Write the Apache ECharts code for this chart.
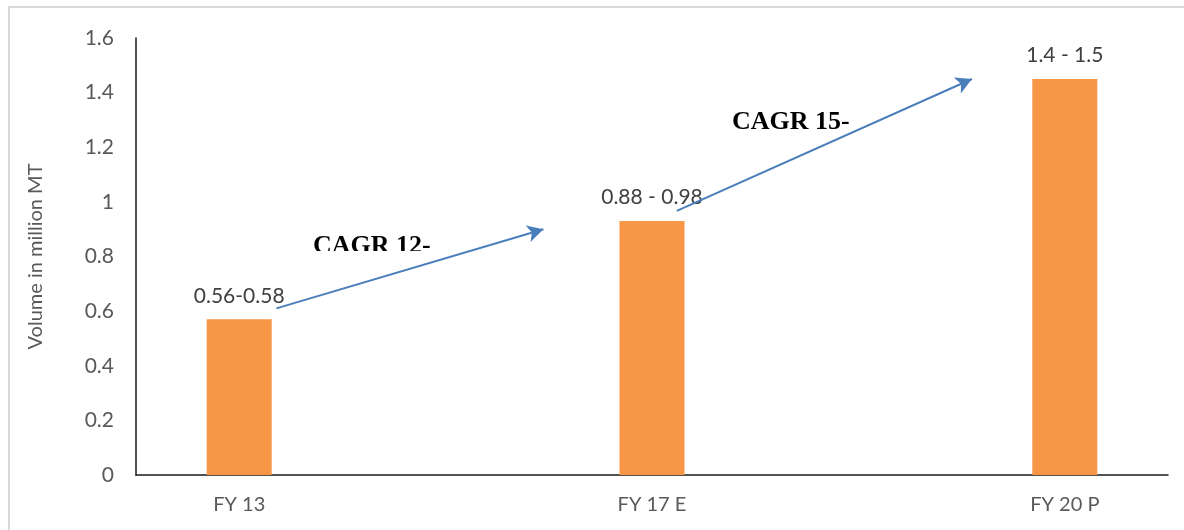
<!DOCTYPE html>
<html>
<head>
<meta charset="utf-8">
<script src="https://cdn.jsdelivr.net/npm/echarts@6/dist/echarts.min.js"></script>
<style>
  html, body { margin: 0; padding: 0; background: #fff; }
  #chart { width: 1184px; height: 530px; }
</style>
</head>
<body>
<div id="chart"></div>
<script>
// chart data
const categories = ['FY 13', 'FY 17 E', 'FY 20 P']
const volumes = [0.57, 0.93, 1.45]
const rangeLabels = ['0.56-0.58', '0.88 - 0.98', '1.4 - 1.5']
const yMin = 0
const yMax = 1.6
const yStep = 0.2

// growth arrows, in data coordinates: [category position, volume]
const cagrArrows = [
  [[0.09, 0.61], [0.737, 0.9]],
  [[1.06, 0.967], [1.775, 1.45]],
]
const cagrTexts = ['CAGR 12-', 'CAGR 15-']

const labelFont = 'Lato, "Open Sans", sans-serif'
const chart = echarts.init(document.getElementById('chart'))

chart.setOption({
  animation: false,
  backgroundColor: '#fff',
  grid: { left: 136, right: 16, top: 38, bottom: 55, outerBoundsMode: 'none' },
  xAxis: {
    type: 'value',
    min: -0.25,
    max: categories.length - 0.75,
    axisLine: { show: true, onZero: false, lineStyle: { color: '#1a1a1a', width: 1.5 } },
    axisTick: { show: false },
    splitLine: { show: false },
    axisLabel: {
      customValues: categories.map((_, i) => i),
      formatter: (value) => categories[Math.round(value)] ?? '',
      color: '#595959',
      fontFamily: labelFont,
      fontSize: 20,
      margin: 20,
    },
  },
  yAxis: {
    type: 'value',
    min: yMin,
    max: yMax,
    interval: yStep,
    name: 'Volume in million MT',
    nameLocation: 'middle',
    nameGap: 90,
    nameTextStyle: { color: '#595959', fontFamily: labelFont, fontSize: 20 },
    axisLine: { show: true, onZero: false, lineStyle: { color: '#1a1a1a', width: 1.5 } },
    axisTick: { show: false },
    splitLine: { show: false },
    axisLabel: {
      color: '#595959',
      fontFamily: labelFont,
      fontSize: 21,
      margin: 22,
      formatter: (value) => String(+value.toFixed(1)),
    },
  },
  series: [
    {
      type: 'bar',
      barWidth: 65,
      data: volumes.map((v, i) => [i, v]),
      itemStyle: { color: '#f79646' },
      label: {
        show: true,
        position: 'top',
        distance: 13,
        color: '#404040',
        fontFamily: labelFont,
        fontSize: 21,
        formatter: (p) => rangeLabels[p.dataIndex],
      },
      markLine: {
        silent: true,
        symbol: ['none', 'arrow'],
        symbolSize: [13, 16],
        label: { show: false },
        lineStyle: { color: '#4a7ebb', width: 2, type: 'solid' },
        data: cagrArrows.map(([from, to]) => [{ coord: from }, { coord: to }]),
        z: 5,
      },
    },
  ],
  graphic: [
    {
      type: 'rect',
      silent: true,
      shape: { x: 9, y: 7, width: 1400, height: 700 },
      style: { fill: 'none', stroke: '#d9d9d9', lineWidth: 2 },
      z: 0,
    },
    {
      type: 'text',
      silent: true,
      x: 313,
      y: 233,
      style: {
        text: cagrTexts[0],
        fill: '#000',
        font: 'bold 26px "Liberation Serif", serif',
        textVerticalAlign: 'top',
      },
      z: 2,
    },
    {
      // the source text box cuts off the lower part of the letters
      type: 'rect',
      silent: true,
      shape: { x: 308, y: 251, width: 125, height: 12 },
      style: { fill: '#fff' },
      z: 3,
    },
    {
      type: 'text',
      silent: true,
      x: 732,
      y: 109,
      style: {
        text: cagrTexts[1],
        fill: '#000',
        font: 'bold 26px "Liberation Serif", serif',
        textVerticalAlign: 'top',
      },
      z: 2,
    },
  ],
})
</script>
</body>
</html>
